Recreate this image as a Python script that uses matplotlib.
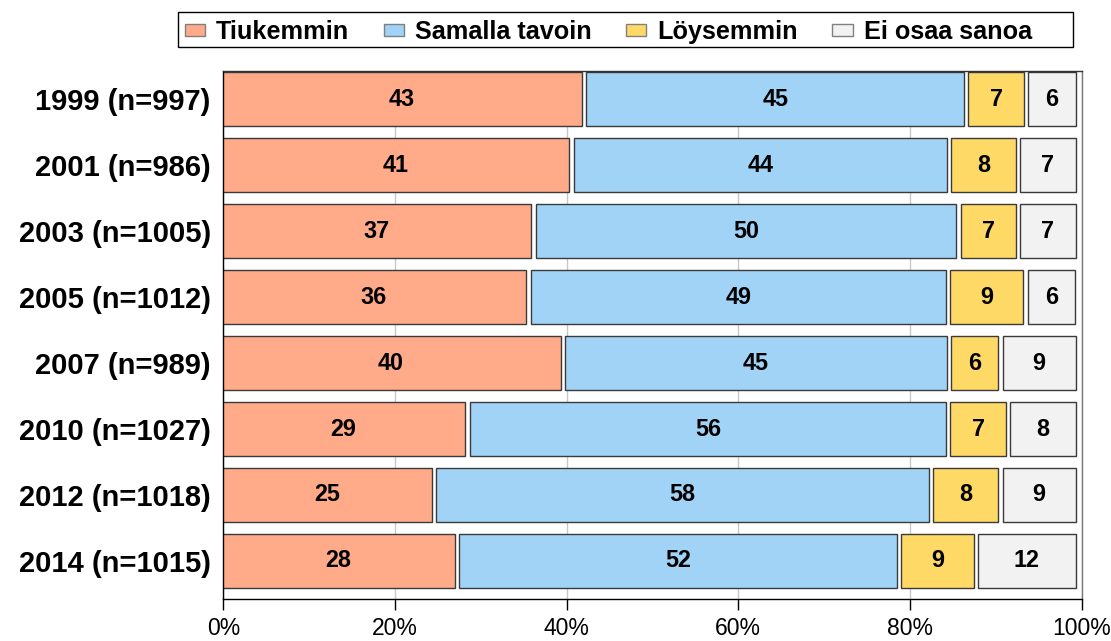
import numpy as np
import matplotlib.pyplot as plt
from matplotlib.patches import Patch, Rectangle

plt.rcParams['font.family'] = ['Liberation Sans', 'DejaVu Sans']

years = ['1999 (n=997)', '2001 (n=986)', '2003 (n=1005)', '2005 (n=1012)',
         '2007 (n=989)', '2010 (n=1027)', '2012 (n=1018)', '2014 (n=1015)']
series = ['Tiukemmin', 'Samalla tavoin', 'Löysemmin', 'Ei osaa sanoa']
colors = ['#FFAA88', '#A0D3F6', '#FFD966', '#F2F2F2']

# segment widths (%) as drawn
tiukemmin = [42.5, 41.0, 36.6, 36.0, 40.0, 28.9, 25.0, 27.7]
samalla = [44.5, 44.0, 49.5, 48.9, 45.0, 56.0, 57.9, 51.5]
loysemmin = [7.0, 8.0, 6.9, 9.0, 6.0, 7.0, 8.1, 8.9]
ei_osaa = [6.0, 7.0, 7.0, 6.0, 9.0, 8.1, 9.0, 11.9]

# printed labels
lab_tiuk = [43, 41, 37, 36, 40, 29, 25, 28]
lab_sam = [45, 44, 50, 49, 45, 56, 58, 52]
lab_loys = [7, 8, 7, 9, 6, 7, 8, 9]
lab_ei = [6, 7, 7, 6, 9, 8, 9, 12]

widths = np.array([tiukemmin, samalla, loysemmin, ei_osaa])
labels = [lab_tiuk, lab_sam, lab_loys, lab_ei]

fig = plt.figure(figsize=(11.11, 6.41), dpi=100)
ax = fig.add_axes([0.201, 0.0655, 0.7726, 0.8237])

y = np.arange(len(years))
gap = 0.5
offset = -0.45
left = np.zeros(len(years)) + offset
for k in range(4):
    ax.barh(y, widths[k] - gap, left=left + gap / 2, height=0.81,
            color=colors[k], edgecolor='#3a3a3a', linewidth=1, zorder=3)
    for i in range(len(years)):
        cx = left[i] + widths[k][i] / 2
        ax.text(cx, y[i], str(labels[k][i]), ha='center', va='center',
                fontsize=16.8, fontweight='bold', color='black', zorder=4)
    left = left + widths[k]

ax.set_xlim(0, 100)
ax.set_ylim(7.577, -0.427)
ax.set_xticks(np.arange(0, 101, 20))
ax.set_xticklabels([f'{v}%' for v in range(0, 101, 20)], fontsize=16.5)
ax.set_yticks(y)
ax.set_yticklabels(years, fontsize=21, fontweight='bold')
ax.tick_params(axis='y', length=0, pad=9)
ax.tick_params(axis='x', length=8, width=1, direction='out', pad=5)
ax.xaxis.grid(True, color='#c8c8c8', linewidth=1, zorder=0)
ax.set_axisbelow(True)

ax.spines['left'].set_color('black')
ax.spines['bottom'].set_color('black')
ax.spines['top'].set_color('#333333')
ax.spines['right'].set_color('#777777')
for s in ax.spines.values():
    s.set_linewidth(1)
    s.set_zorder(5)

# legend with a box round it
handles = [Patch(facecolor=c, edgecolor='#808080', linewidth=1) for c in colors]
fig.legend(handles, series, loc='center left',
           bbox_to_anchor=(172 / 1111, 1 - 32 / 641), ncol=4, frameon=False,
           borderpad=0, handlelength=0.8, handleheight=0.4, handletextpad=0.45,
           columnspacing=1.35, prop={'weight': 'bold', 'size': 18.2})
fig.patches.append(Rectangle((178 / 1111, 1 - 47.3 / 641), (1073 - 178) / 1111,
                             35 / 641, transform=fig.transFigure, fill=False,
                             edgecolor='black', linewidth=1))

fig.savefig('out.png', dpi=100)
